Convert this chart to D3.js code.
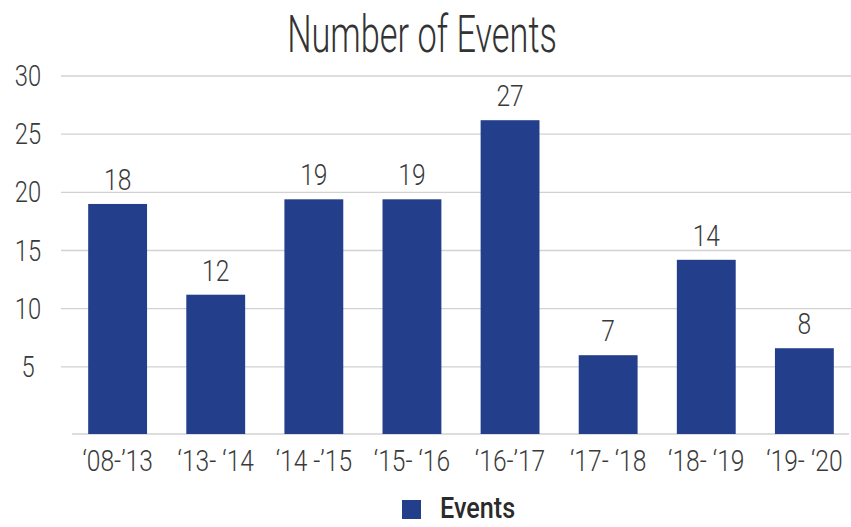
<!DOCTYPE html>
<html>
<head>
<meta charset="utf-8">
<script src="https://cdn.jsdelivr.net/npm/d3@7/dist/d3.min.js"></script>
<style>
  html, body { margin: 0; padding: 0; background: #fff; }
  svg { display: block; }
  text { font-family: Roboto, "Liberation Sans", sans-serif; }
</style>
</head>
<body>
<script>
// ---- data ----
const categories = ["\u201808-\u201913", "\u201813- \u201814", "\u201814 -\u201915", "\u201815- \u201816", "\u201816-\u201917", "\u201817- \u201818", "\u201818- \u201819", "\u201819- \u201820"];
const barValues = [19.0, 11.2, 19.4, 19.4, 26.2, 6.0, 14.2, 6.6];   // bar heights as drawn
const valueLabels = ["18", "12", "19", "19", "27", "7", "14", "8"];  // printed labels
const yTicks = [5, 10, 15, 20, 25, 30];
const seriesName = "Events";
const titleText = "Number of Events";

// ---- layout ----
const W = 851, H = 527;
const barColor = "#233e8a";
const textColor = "#3a3a3a";
const gridColor = "#d2d2d2";
const numScale = 0.82;   // horizontal condensing of numeric text
const titleScale = 0.66;

const svg = d3.select("body").append("svg").attr("width", W).attr("height", H);

const x = d3.scaleBand().domain(categories).range([72, 850]).paddingInner(0.4).paddingOuter(0.165);
const y = d3.scaleLinear().domain([0, 30]).range([425, 76]);
const baseY = y(0) + 9;

// gridlines
svg.append("g").selectAll("line").data(yTicks).join("line")
  .attr("x1", 61).attr("x2", W)
  .attr("y1", d => y(d)).attr("y2", d => y(d))
  .attr("stroke", gridColor).attr("stroke-width", 1.4);

// baseline
svg.append("line").attr("x1", 72).attr("x2", 849).attr("y1", baseY).attr("y2", baseY)
  .attr("stroke", gridColor).attr("stroke-width", 1.6);

// y tick labels
svg.append("g").selectAll("g").data(yTicks).join("g")
  .attr("transform", d => `translate(28,${y(d) + 10}) scale(${numScale},1)`)
  .append("text")
  .attr("text-anchor", "middle").attr("font-size", 29).attr("font-weight", 300)
  .attr("fill", textColor).text(d => d);

// bars
svg.append("g").selectAll("rect").data(categories).join("rect")
  .attr("x", d => x(d)).attr("width", x.bandwidth())
  .attr("y", (d, i) => y(barValues[i]))
  .attr("height", (d, i) => baseY - y(barValues[i]))
  .attr("fill", barColor);

// value labels
svg.append("g").selectAll("g").data(categories).join("g")
  .attr("transform", (d, i) => `translate(${x(d) + x.bandwidth() / 2},${y(barValues[i]) - 14}) scale(${numScale},1)`)
  .append("text")
  .attr("text-anchor", "middle").attr("font-size", 30).attr("font-weight", 300)
  .attr("fill", textColor).text((d, i) => valueLabels[i]);

// x category labels
svg.append("g").selectAll("g").data(categories).join("g")
  .attr("transform", d => `translate(${x(d) + x.bandwidth() / 2},${baseY + 37}) scale(${numScale},1)`)
  .append("text")
  .attr("text-anchor", "middle").attr("font-size", 30).attr("font-weight", 300)
  .attr("fill", textColor).text(d => d);

// title
svg.append("g").attr("transform", `translate(422,52) scale(${titleScale},1)`)
  .append("text").attr("text-anchor", "middle").attr("font-size", 52).attr("font-weight", 300)
  .attr("fill", "#333").text(titleText);

// legend
const lg = svg.append("g");
lg.append("rect").attr("x", 402).attr("y", 500).attr("width", 19).attr("height", 19).attr("fill", barColor);
lg.append("g").attr("transform", `translate(440,518) scale(0.84,1)`)
  .append("text").attr("font-size", 30).attr("font-weight", 500).attr("fill", "#2a2a2a").text(seriesName);
</script>
</body>
</html>
